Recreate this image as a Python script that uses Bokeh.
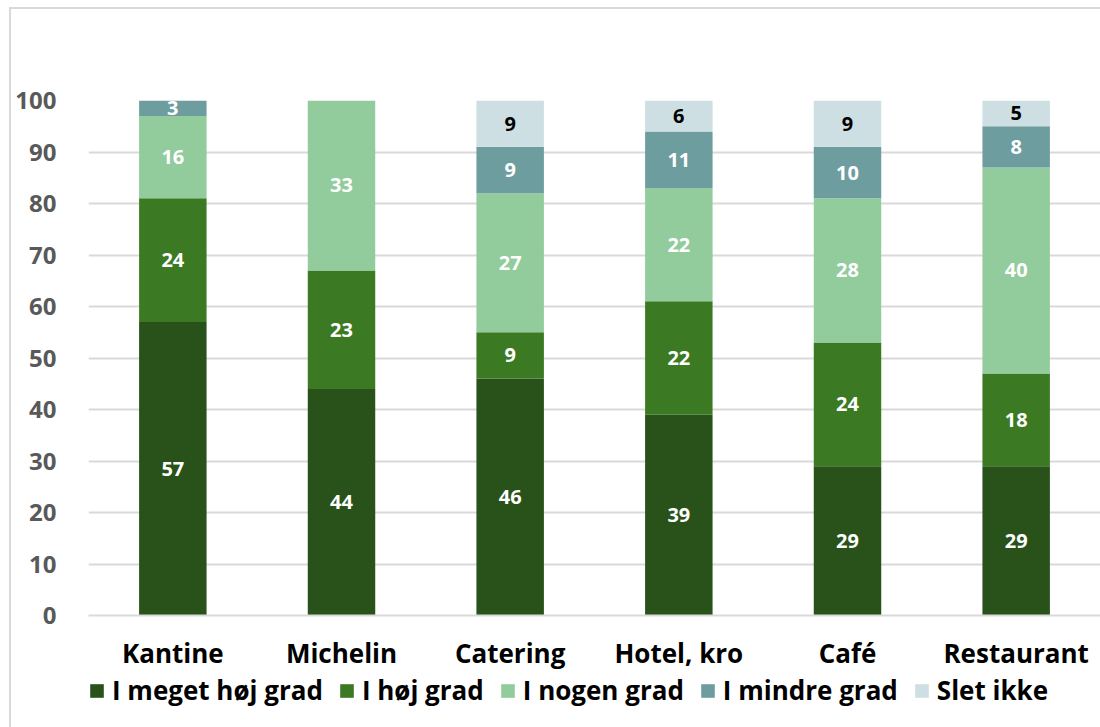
from bokeh.plotting import figure
from bokeh.models import (ColumnDataSource, FactorRange, LabelSet, Legend, LegendItem,
                          SingleIntervalTicker, Column)
from bokeh.core.properties import value
from bokeh.embed import file_html
from bokeh.resources import INLINE

# Share of respondents (%) per type of establishment
categories = ["Kantine", "Michelin", "Catering", "Hotel, kro", "Café", "Restaurant"]
series = ["I meget høj grad", "I høj grad", "I nogen grad", "I mindre grad", "Slet ikke"]
meget_hoej = [57, 44, 46, 39, 29, 29]
hoej = [24, 23, 9, 22, 24, 18]
nogen = [16, 33, 27, 22, 28, 40]
mindre = [3, 0, 9, 11, 10, 8]
slet_ikke = [0, 0, 9, 6, 9, 5]

values = [meget_hoej, hoej, nogen, mindre, slet_ikke]
colors = ["#285219", "#3b7a22", "#92cb9c", "#6e9da0", "#cddfe2"]
label_colors = ["white", "white", "white", "white", "black"]
keys = ["s0", "s1", "s2", "s3", "s4"]
FONT = "Open Sans"

data = {"cat": categories}
for k, v in zip(keys, values):
    data[k] = v
source = ColumnDataSource(data)

# --- stacked bar chart -------------------------------------------------------
p = figure(x_range=FactorRange(*categories, range_padding=0), y_range=(0, 100),
           width=1100, height=673, output_backend="svg", toolbar_location=None,
           min_border_left=88, min_border_right=0, min_border_top=100, min_border_bottom=57)
p.outline_line_color = None
p.background_fill_color = "white"
p.border_fill_color = None

p.vbar_stack(keys, x="cat", width=0.4, color=colors, line_color=None, source=source)

# value labels centred in each segment
for i, (k, lc) in enumerate(zip(keys, label_colors)):
    xs, ys, txt = [], [], []
    for j, c in enumerate(categories):
        v = values[i][j]
        if v == 0:
            continue
        base = sum(values[m][j] for m in range(i))
        xs.append(c)
        ys.append(base + v / 2)
        txt.append(str(v))
    ls = LabelSet(x="x", y="y", text="t", source=ColumnDataSource(dict(x=xs, y=ys, t=txt)),
                  text_align="center", text_baseline="middle", text_color=lc,
                  text_font=value(FONT), text_font_style="bold", text_font_size="20px")
    p.add_layout(ls)

p.yaxis.ticker = SingleIntervalTicker(interval=10)
p.yaxis.axis_line_color = None
p.yaxis.major_tick_line_color = None
p.yaxis.major_tick_out = 0
p.yaxis.major_tick_in = 0
p.yaxis.minor_tick_line_color = None
p.yaxis.major_label_text_font = FONT
p.yaxis.major_label_text_font_style = "bold"
p.yaxis.major_label_text_font_size = "24px"
p.yaxis.major_label_text_color = "#595959"
p.yaxis.major_label_standoff = 28

p.xaxis.axis_line_color = "#d9d9d9"
p.xaxis.axis_line_width = 2
p.xaxis.major_tick_line_color = None
p.xaxis.major_tick_out = 0
p.xaxis.major_tick_in = 0
p.xaxis.minor_tick_line_color = None
p.xaxis.major_label_text_font = FONT
p.xaxis.major_label_text_font_style = "bold"
p.xaxis.major_label_text_font_size = "26px"
p.xaxis.major_label_text_color = "black"
p.xaxis.major_label_standoff = 19

p.xgrid.grid_line_color = None
p.ygrid.grid_line_color = "#d9d9d9"
p.ygrid.grid_line_width = 2

# --- legend strip underneath ---------------------------------------------------
# the same stacks, kept outside this strip's visible range, supply the legend swatches
lg = figure(width=1100, height=54, x_range=FactorRange(*categories), y_range=(1000, 1001),
            output_backend="svg", toolbar_location=None,
            min_border=0, x_axis_type=None, y_axis_type=None)
lg.outline_line_color = None
lg.background_fill_color = None
lg.border_fill_color = None
lg.grid.visible = False

swatches = lg.vbar_stack(keys, x="cat", width=0.4, color=colors, line_color=None,
                         source=source)
legend = Legend(items=[LegendItem(label=s, renderers=[r]) for s, r in zip(series, swatches)],
                orientation="horizontal", location=(0, 19),
                glyph_width=17, glyph_height=17, label_standoff=7, spacing=15,
                padding=0, margin=0, border_line_color=None, background_fill_alpha=0,
                label_text_font=FONT, label_text_font_style="bold",
                label_text_font_size="26px", label_text_color="black")
lg.add_layout(legend, "center")

# light frame line along the top and left edge of the chart area
layout = Column(children=[p, lg], spacing=0, styles={
    "background": ("linear-gradient(#d9d9d9, #d9d9d9) 9px 7px / 2px 100% no-repeat, "
                   "linear-gradient(#d9d9d9, #d9d9d9) 9px 7px / 100% 2px no-repeat, white"),
})

open("out.html", "w").write(file_html(layout, INLINE))
